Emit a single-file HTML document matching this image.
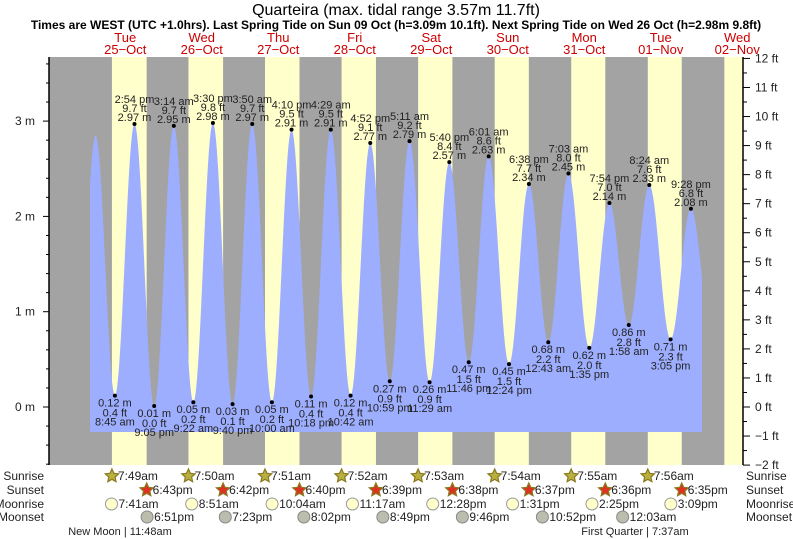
<!DOCTYPE html>
<html><head><meta charset="utf-8"><style>
html,body{margin:0;padding:0;background:#fff;}
svg{display:block;font-family:"Liberation Sans",sans-serif;}
</style></head><body>
<svg id="s" width="793" height="539" xmlns="http://www.w3.org/2000/svg"></svg>
<script>
const S=document.getElementById('s');
let h='';
const X0=87,PX=76.5/24;
const xt=t=>X0+t*PX;
const ym=m=>407-m*95.3;
const L=49,R=743,T=57,B=465;
h+=`<rect x="${L}" y="${T}" width="${R-L}" height="${B-T}" fill="#a3a3a3"/>`;
const sr=[7+49/60,7+50/60,7+51/60,7+52/60,7+53/60,7+54/60,7+55/60,7+56/60,7+57/60];
const ss=[18+43/60,18+42/60,18+40/60,18+39/60,18+38/60,18+37/60,18+36/60,18+35/60];
for(let d=0;d<9;d++){
 let a=xt(d*24+sr[d]), b=d<8?xt(d*24+ss[d]):R;
 if(b>R)b=R;
 h+=`<rect x="${a}" y="${T}" width="${b-a}" height="${B-T}" fill="#ffffcc"/>`;
}
const E=[[-3.5,0.1],[2.7,2.85],
[8.75,0.12],[14.9,2.97],[21.083,0.01],
[24+3.233,2.95],[24+9.367,0.05],[24+15.5,2.98],[24+21.667,0.03],
[48+3.833,2.97],[48+10,0.05],[48+16.167,2.91],[48+22.3,0.11],
[72+4.483,2.91],[72+10.7,0.12],[72+16.867,2.77],[72+22.983,0.27],
[96+5.183,2.79],[96+11.483,0.26],[96+17.667,2.57],[96+23.767,0.47],
[120+6.017,2.63],[120+12.4,0.45],[120+18.633,2.34],
[144+0.717,0.68],[144+7.05,2.45],[144+13.583,0.62],[144+19.9,2.14],
[168+1.967,0.86],[168+8.4,2.33],[168+15.083,0.71],[168+21.467,2.08],[168+27.9,0.8]];
const x1=90,x2=702;
let pts=[];
for(let x=x1;x<=x2;x+=1){
 const t=(x-X0)/PX;
 let i=0;while(i<E.length-2&&E[i+1][0]<t)i++;
 const [ta,ha]=E[i],[tb,hb]=E[i+1];
 const f=(t-ta)/(tb-ta);
 const v=ha+(hb-ha)*(1-Math.cos(Math.PI*f))/2;
 pts.push(x.toFixed(1)+','+ym(v).toFixed(1));
}
h+=`<polygon points="${x1},432 ${pts.join(' ')} ${x2},432" fill="#9eaeff"/>`;
const lab=[
['2:54 pm','9.7 ft','2.97 m',3],['0.12 m','0.4 ft','8:45 am',2],['0.01 m','0.0 ft','9:05 pm',4],
['3:14 am','9.7 ft','2.95 m',5],['0.05 m','0.2 ft','9:22 am',6],['3:30 pm','9.8 ft','2.98 m',7],['0.03 m','0.1 ft','9:40 pm',8],
['3:50 am','9.7 ft','2.97 m',9],['0.05 m','0.2 ft','10:00 am',10],['4:10 pm','9.5 ft','2.91 m',11],['0.11 m','0.4 ft','10:18 pm',12],
['4:29 am','9.5 ft','2.91 m',13],['0.12 m','0.4 ft','10:42 am',14],['4:52 pm','9.1 ft','2.77 m',15],['0.27 m','0.9 ft','10:59 pm',16],
['5:11 am','9.2 ft','2.79 m',17],['0.26 m','0.9 ft','11:29 am',18],['5:40 pm','8.4 ft','2.57 m',19],['0.47 m','1.5 ft','11:46 pm',20],
['6:01 am','8.6 ft','2.63 m',21],['0.45 m','1.5 ft','12:24 pm',22],['6:38 pm','7.7 ft','2.34 m',23],
['0.68 m','2.2 ft','12:43 am',24],['7:03 am','8.0 ft','2.45 m',25],['0.62 m','2.0 ft','1:35 pm',26],['7:54 pm','7.0 ft','2.14 m',27],
['0.86 m','2.8 ft','1:58 am',28],['8:24 am','7.6 ft','2.33 m',29],['0.71 m','2.3 ft','3:05 pm',30],['9:28 pm','6.8 ft','2.08 m',31]];
for(const l of lab){
 const e=E[l[3]],x=xt(e[0]),y=ym(e[1]);
 h+=`<circle cx="${x}" cy="${y}" r="2" fill="#000"/>`;
 const st=`font-size="11" fill="#222" text-anchor="middle"`;
 if(e[1]>1.5){
  h+=`<text x="${x}" y="${y-21}" ${st}>${l[0]}</text><text x="${x}" y="${y-12}" ${st}>${l[1]}</text><text x="${x}" y="${y-3}" ${st}>${l[2]}</text>`;
 }else{
  h+=`<text x="${x}" y="${y+11}" ${st}>${l[0]}</text><text x="${x}" y="${y+21}" ${st}>${l[1]}</text><text x="${x}" y="${y+30}" ${st}>${l[2]}</text>`;
 }
}
h+=`<line x1="${L}" y1="${T}" x2="${L}" y2="${B}" stroke="#000" stroke-width="1.5"/>`;
h+=`<line x1="${R}" y1="${T}" x2="${R}" y2="${B}" stroke="#000" stroke-width="1.5"/>`;
for(let m=-0.6;m<=3.61;m+=0.2){
 const y=ym(m);if(y<T-1)continue;
 const maj=Math.abs(m-Math.round(m))<0.01;
 h+=`<line x1="${maj?43:46}" y1="${y}" x2="${L}" y2="${y}" stroke="#000"/>`;
 if(maj)h+=`<text x="35" y="${y+4}" font-size="12" fill="#222" text-anchor="end">${Math.round(m)} m</text>`;
}
for(let f=-2;f<=12;f+=0.5){
 const y=ym(f*0.3048);
 const maj=f%1===0;
 h+=`<line x1="${R}" y1="${y}" x2="${maj?750:747}" y2="${y}" stroke="#000"/>`;
 if(maj)h+=`<text x="755" y="${y+4}" font-size="12" fill="#222">${f<0?'−'+(-f):f} ft</text>`;
}
h+=`<text x="396" y="15" font-size="16" text-anchor="middle" fill="#000">Quarteira (max. tidal range 3.57m 11.7ft)</text>`;
h+=`<text x="396" y="29" font-size="12" font-weight="bold" text-anchor="middle" fill="#000">Times are WEST (UTC +1.0hrs). Last Spring Tide on Sun 09 Oct (h=3.09m 10.1ft). Next Spring Tide on Wed 26 Oct (h=2.98m 9.8ft)</text>`;
const dn=['Tue','Wed','Thu','Fri','Sat','Sun','Mon','Tue','Wed'],dd=['25−Oct','26−Oct','27−Oct','28−Oct','29−Oct','30−Oct','31−Oct','01−Nov','02−Nov'];
for(let d=0;d<9;d++){const x=xt(d*24+12);
 h+=`<text x="${x}" y="42" font-size="13" fill="#cc0000" text-anchor="middle">${dn[d]}</text><text x="${x}" y="54" font-size="13" fill="#cc0000" text-anchor="middle">${dd[d]}</text>`;}
const rows=[['Sunrise',476],['Sunset',490],['Moonrise',504],['Moonset',517]];
for(const r of rows){h+=`<text x="44" y="${r[1]+4}" font-size="12" fill="#222" text-anchor="end">${r[0]}</text><text x="746" y="${r[1]+4}" font-size="12" fill="#222">${r[0]}</text>`;}
function star(cx,cy,fill,stroke){let p=[];for(let i=0;i<10;i++){const a=-Math.PI/2+i*Math.PI/5,r=i%2?3.3:7;p.push((cx+r*Math.cos(a)).toFixed(1)+','+(cy+r*Math.sin(a)).toFixed(1));}
 return `<polygon points="${p.join(' ')}" fill="${fill}" stroke="${stroke}" stroke-width="1.2"/>`;}
const fmt=t=>{let hh=Math.floor(t),mm=Math.round((t-hh)*60);const ap=hh>=12?'pm':'am';let h12=hh%12;if(h12==0)h12=12;return h12+':'+String(mm).padStart(2,'0')+ap;};
for(let d=0;d<8;d++){
 let x=xt(d*24+sr[d]);h+=star(x,476,'#b8b040','#8a7a20')+`<text x="${x+6}" y="480" font-size="12" fill="#222">${fmt(sr[d])}</text>`;
 x=xt(d*24+ss[d]);h+=star(x,490,'#e03020','#8a7a20')+`<text x="${x+6}" y="494" font-size="12" fill="#222">${fmt(ss[d])}</text>`;
}
const mr=[[0,7+41/60],[1,8+51/60],[2,10+4/60],[3,11+17/60],[4,12+28/60],[5,13+31/60],[6,14+25/60],[7,15+9/60]];
for(const m of mr){const x=xt(m[0]*24+m[1]);h+=`<circle cx="${x}" cy="504" r="6" fill="#ffffcc" stroke="#999" /><text x="${x+7}" y="508" font-size="12" fill="#222">${fmt(m[1])}</text>`;}
const ms=[[0,18+51/60],[1,19+23/60],[2,20+2/60],[3,20+49/60],[4,21+46/60],[5,22+52/60],[7,0+3/60]];
for(const m of ms){const x=xt(m[0]*24+m[1]);h+=`<circle cx="${x}" cy="517" r="6" fill="#bdbdae" stroke="#888" /><text x="${x+7}" y="521" font-size="12" fill="#222">${fmt(m[1])}</text>`;}
h+=`<text x="120" y="535" font-size="11" fill="#222" text-anchor="middle">New Moon | 11:48am</text>`;
h+=`<text x="635" y="535" font-size="11" fill="#222" text-anchor="middle">First Quarter | 7:37am</text>`;
S.innerHTML=h;
</script>
</body></html>
